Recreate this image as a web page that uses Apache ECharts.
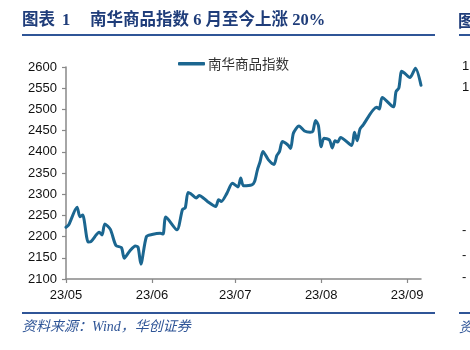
<!DOCTYPE html>
<html><head><meta charset="utf-8">
<script src="https://cdn.jsdelivr.net/npm/echarts@6/dist/echarts.min.js"></script>
<style>html,body{margin:0;padding:0;background:#fff}#c{width:470px;height:350px}</style>
</head><body><div id="c"></div>
<script>
const seriesName = '南华商品指数';
const dates = ['2023-05-01','2023-05-02','2023-05-05','2023-05-06','2023-05-07','2023-05-09','2023-05-10','2023-05-13','2023-05-14','2023-05-15','2023-05-17','2023-05-19','2023-05-21','2023-05-22','2023-05-24','2023-05-26','2023-05-27','2023-05-28','2023-05-30','2023-06-01','2023-06-04','2023-06-05','2023-06-06','2023-06-10','2023-06-12','2023-06-13','2023-06-14','2023-06-15','2023-06-17','2023-06-18','2023-06-21','2023-06-24','2023-06-25','2023-06-26','2023-06-28','2023-06-30','2023-07-02','2023-07-03','2023-07-04','2023-07-07','2023-07-08','2023-07-09','2023-07-10','2023-07-11','2023-07-13','2023-07-15','2023-07-16','2023-07-17','2023-07-18','2023-07-20','2023-07-21','2023-07-22','2023-07-24','2023-07-26','2023-07-28','2023-07-29','2023-07-30','2023-07-31','2023-08-01','2023-08-02','2023-08-04','2023-08-05','2023-08-06','2023-08-07','2023-08-08','2023-08-12','2023-08-13','2023-08-14','2023-08-15','2023-08-16','2023-08-21','2023-08-22','2023-08-23','2023-08-27','2023-08-28','2023-08-29','2023-08-30','2023-08-31','2023-09-02','2023-09-04','2023-09-06'];
const values = [2222,2228,2269,2247,2251,2187,2188,2210,2204,2230,2217,2179,2174,2149,2166,2178,2175,2135,2200,2205,2208,2206,2246,2216,2264,2268,2304,2301,2291,2297,2283,2271,2287,2283,2302,2326,2317,2338,2320,2322,2330,2357,2377,2401,2381,2370,2391,2401,2424,2416,2408,2444,2461,2449,2446,2448,2474,2462,2412,2432,2428,2409,2426,2423,2434,2415,2446,2426,2454,2462,2505,2501,2528,2506,2542,2550,2590,2586,2575,2597,2557];
const xStart = '2023-05-01';
const xEnd = '2023-09-06';
const yMin = 2100, yMax = 2600, yStep = 50;
const titleLead = '图表';
const titleNum = '1';
const titleText = '南华商品指数 6 月至今上涨 20%';
const sourceText = '资料来源：Wind，华创证券';

const chart = echarts.init(document.getElementById('c'), null, {renderer:'canvas'});
const DAY = 86400000;
const navy = '#1f3d7a';
const rule = '#2f5597';
const tFont = 'Liberation Serif, Noto Sans CJK SC';
chart.setOption({
  animation: false,
  backgroundColor: '#fff',
  grid: {left: 66, right: 49, top: 67, bottom: 71, containLabel: false},
  legend: {
    data: [seriesName], left: 173, top: 52, icon: 'roundRect', itemWidth: 27, itemHeight: 3.5, itemGap: 2,
    textStyle: {fontFamily: 'Noto Sans CJK SC', fontSize: 13.5, color: '#333', padding: [0, 0, 0, -2]}
  },
  xAxis: {
    type: 'time', min: xStart, max: xEnd,
    minInterval: 28 * DAY, maxInterval: 31 * DAY,
    axisLine: {lineStyle: {color: '#888', width: 1.5}},
    axisTick: {show: true, length: 4, lineStyle: {color: '#888', width: 1.2}},
    splitLine: {show: false},
    axisLabel: {
      fontFamily: 'Liberation Sans, Arial', fontSize: 13, color: '#111', margin: 10,
      showMinLabel: true, showMaxLabel: false, hideOverlap: false,
      formatter: function (v) { const d = new Date(v); return String(d.getFullYear()).slice(2) + '/' + String(d.getMonth() + 1).padStart(2, '0'); }
    }
  },
  yAxis: {
    type: 'value', min: yMin, max: yMax, interval: yStep,
    axisLine: {show: true, lineStyle: {color: '#888', width: 1.5}},
    axisTick: {show: true, length: 4, lineStyle: {color: '#888', width: 1.2}},
    splitLine: {show: false},
    axisLabel: {fontFamily: 'Liberation Sans, Arial', fontSize: 13, color: '#111', margin: 9, formatter: v => String(v)}
  },
  series: [{
    name: seriesName, type: 'line', showSymbol: false, symbol: 'none', smooth: 0.25,
    lineStyle: {color: '#1b6690', width: 3, cap: 'round', join: 'round'},
    itemStyle: {color: '#1b6690'},
    data: dates.map((d, i) => [d, values[i]])
  }],
  graphic: [
    {type: 'text', left: 22, top: 12, style: {text: titleLead, fontFamily: tFont, fontWeight: 'bold', fontSize: 16.5, fill: navy}},
    {type: 'text', left: 62, top: 12, style: {text: titleNum, fontFamily: tFont, fontWeight: 'bold', fontSize: 16.5, fill: navy}},
    {type: 'text', left: 90, top: 12, style: {text: titleText, fontFamily: tFont, fontWeight: 'bold', fontSize: 16.5, fill: navy}},
    {type: 'rect', shape: {x: 22, y: 34, width: 413, height: 2}, style: {fill: rule}},
    {type: 'rect', shape: {x: 22, y: 312, width: 413, height: 2}, style: {fill: rule}},
    {type: 'text', left: 22, top: 320, style: {text: sourceText, fontFamily: tFont, fontStyle: 'italic', fontSize: 14, fill: rule}},
    {type: 'text', left: 458, top: 12, style: {text: '图', fontFamily: 'Noto Sans CJK SC', fontWeight: 'bold', fontSize: 16.5, fill: navy}},
    {type: 'rect', shape: {x: 459, y: 34, width: 11, height: 2}, style: {fill: rule}},
    {type: 'rect', shape: {x: 459, y: 312, width: 11, height: 2}, style: {fill: rule}},
    {type: 'text', left: 459, top: 320, style: {text: '资', fontFamily: 'Noto Sans CJK SC', fontStyle: 'italic', fontSize: 14, fill: rule}},
    {type: 'text', left: 462, top: 60, style: {text: '1', fontFamily: 'Liberation Sans', fontSize: 13, fill: '#111'}},
    {type: 'text', left: 462, top: 81, style: {text: '1', fontFamily: 'Liberation Sans', fontSize: 13, fill: '#111'}},
    {type: 'text', left: 462, top: 224, style: {text: '-', fontFamily: 'Liberation Sans', fontSize: 13, fill: '#111'}},
    {type: 'text', left: 462, top: 249, style: {text: '-', fontFamily: 'Liberation Sans', fontSize: 13, fill: '#111'}},
    {type: 'text', left: 462, top: 271, style: {text: '-', fontFamily: 'Liberation Sans', fontSize: 13, fill: '#111'}}
  ]
});
</script></body></html>
